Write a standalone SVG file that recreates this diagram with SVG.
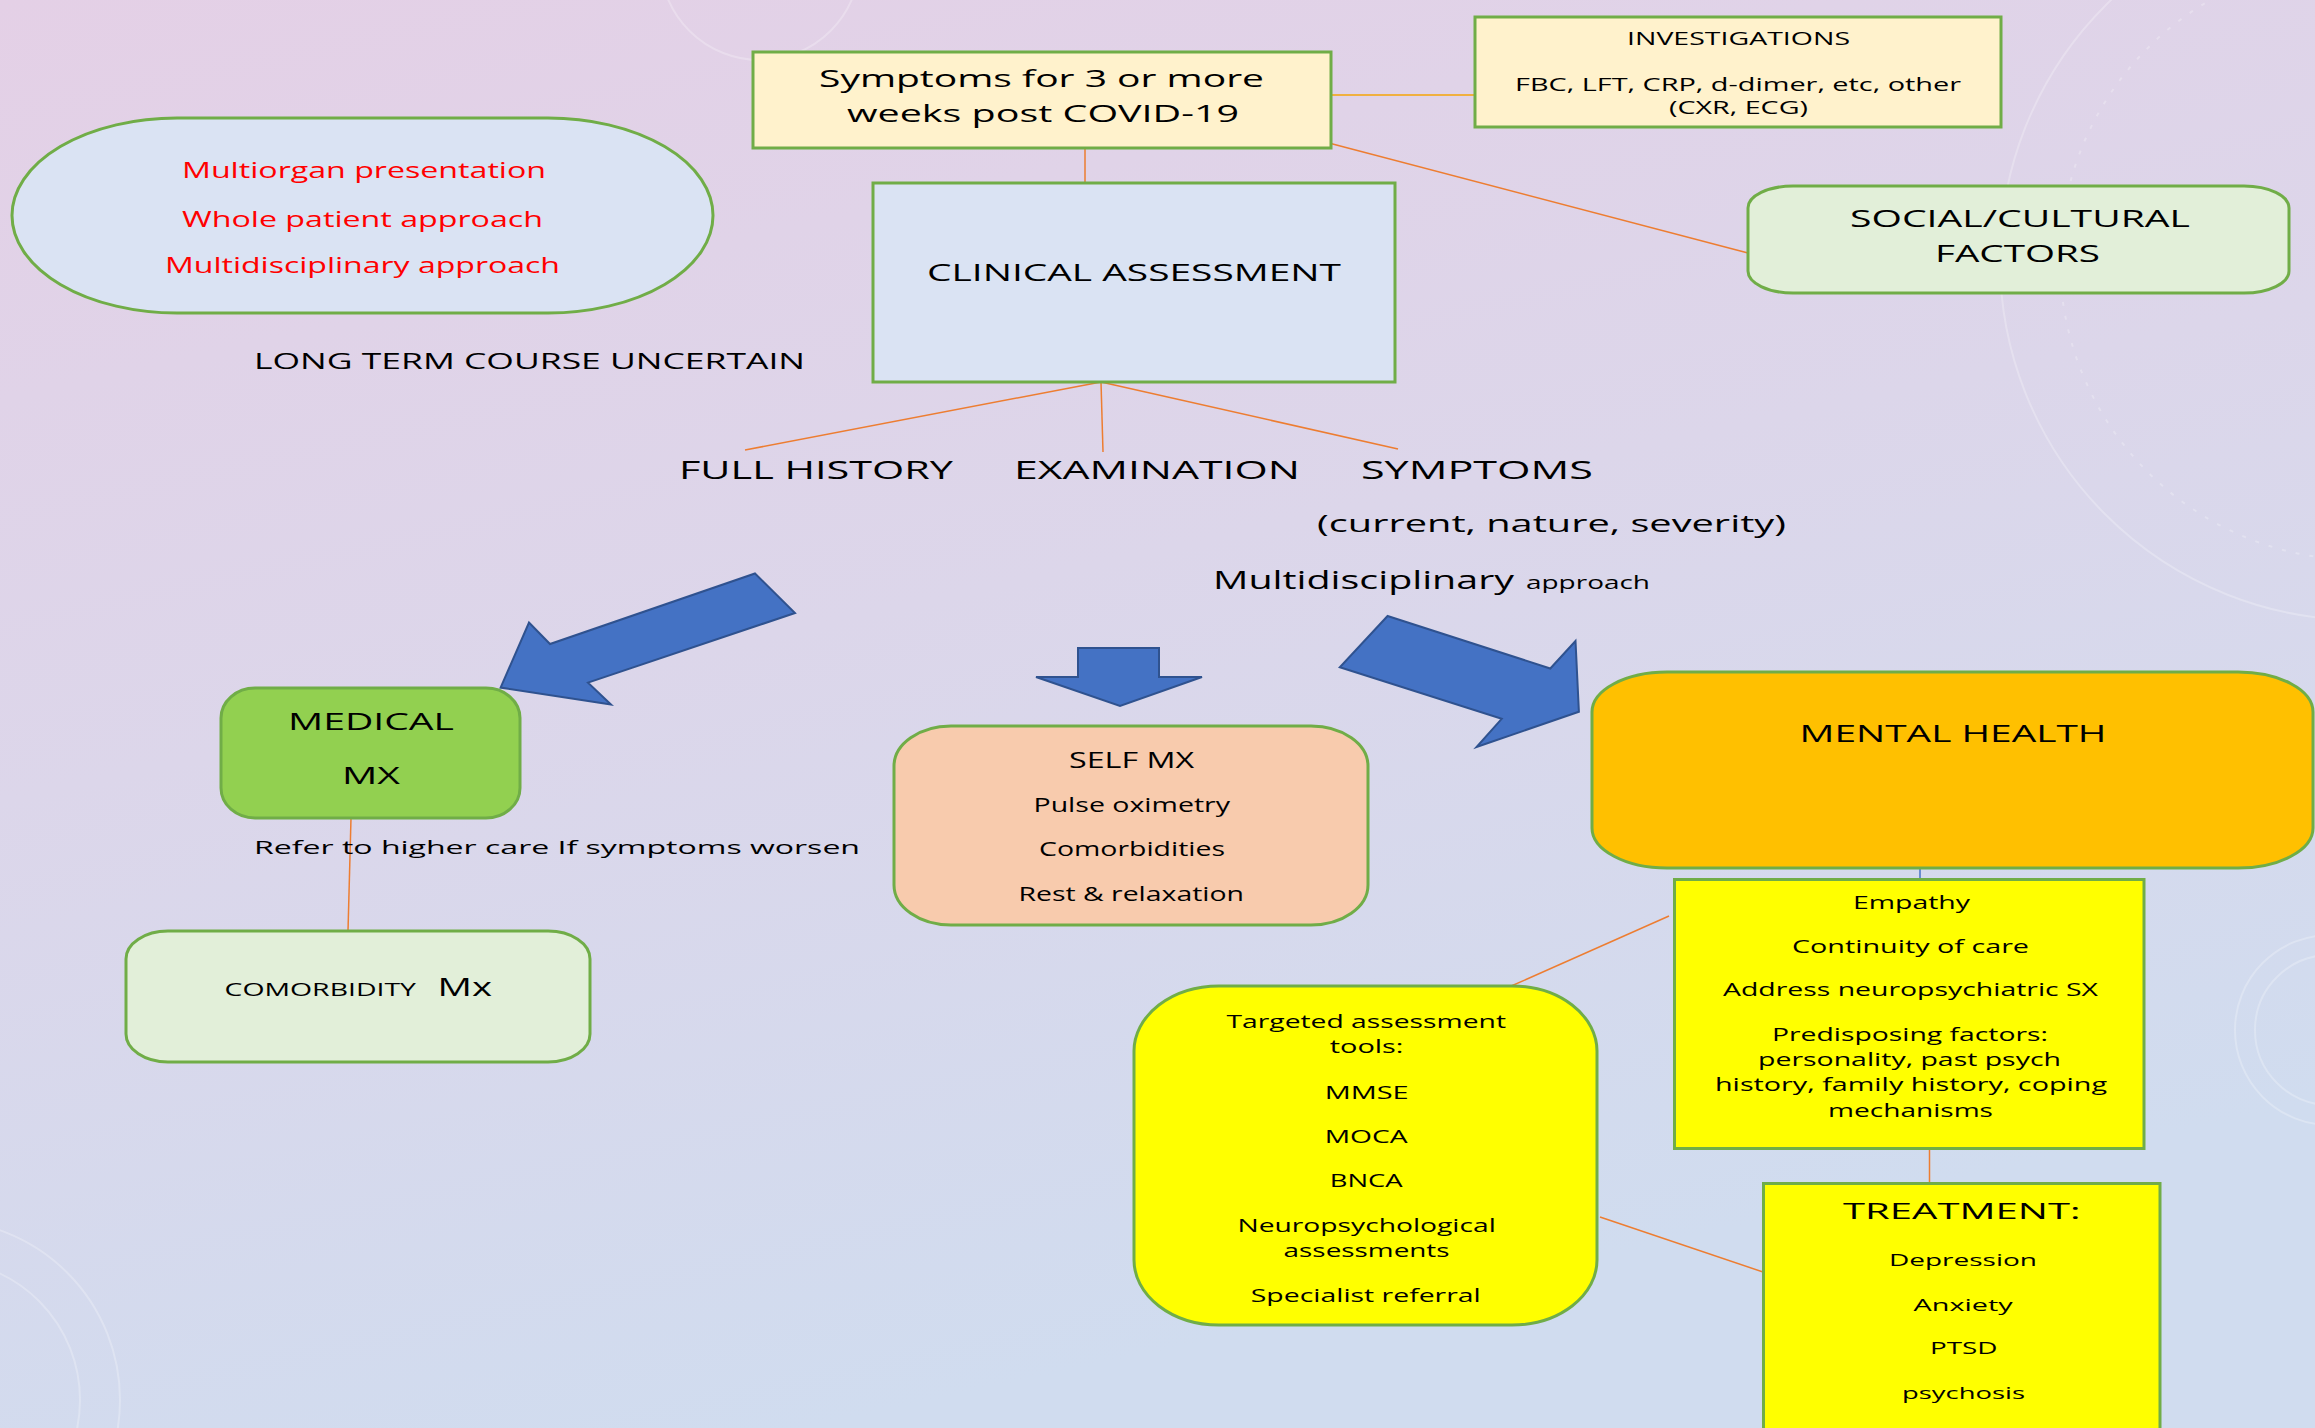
<svg xmlns="http://www.w3.org/2000/svg" width="2315" height="1428" viewBox="0 0 2315 1428">
<defs>
<linearGradient id="bg" x1="0" y1="0" x2="0.35" y2="1">
<stop offset="0" stop-color="#e4d0e6"/>
<stop offset="0.5" stop-color="#dcd6ea"/>
<stop offset="1" stop-color="#d0dcef"/>
</linearGradient>
<style>
.t{font-family:"Open Sans","Liberation Sans",Arial,sans-serif;fill:#000;}
.r{fill:#ff0000;}
.box{stroke:#70ad47;stroke-width:3;}
.con{stroke:#ed7d31;stroke-width:1.5;fill:none;}
.arr{fill:#4472c4;stroke:#2f528f;stroke-width:2;stroke-linejoin:miter;}
.deco{fill:none;stroke:#ffffff;stroke-opacity:0.25;stroke-width:2;}
</style>
</defs>
<rect x="0" y="0" width="2315" height="1428" fill="url(#bg)"/>
<g id="decor">
<circle class="deco" cx="2360" cy="260" r="360"/>
<circle class="deco" cx="2360" cy="260" r="300" stroke-dasharray="4 10"/>
<circle class="deco" cx="2330" cy="1030" r="95"/>
<circle class="deco" cx="2330" cy="1030" r="75"/>
<circle class="deco" cx="-60" cy="1400" r="180"/>
<circle class="deco" cx="-60" cy="1400" r="140"/>
<circle class="deco" cx="760" cy="-40" r="100"/>
</g>
<g id="connectors">
<line class="con" x1="1085" y1="148" x2="1085" y2="183"/>
<line x1="1331" y1="95" x2="1475" y2="95" stroke="#f0b040" stroke-width="2"/>
<line class="con" x1="1325" y1="142" x2="1748" y2="253"/>
<line class="con" x1="1101" y1="382" x2="745" y2="450"/>
<line class="con" x1="1101" y1="382" x2="1103" y2="452"/>
<line class="con" x1="1101" y1="382" x2="1398" y2="449"/>
<line class="con" x1="351" y1="818" x2="348" y2="931"/>
<line x1="1920" y1="868" x2="1920" y2="880" stroke="#4472c4" stroke-width="1.5"/>
<line class="con" x1="1669" y1="916" x2="1509" y2="987"/>
<line class="con" x1="1929.5" y1="1149" x2="1929.5" y2="1183"/>
<line class="con" x1="1600" y1="1217" x2="1766" y2="1273"/>
<polygon class="arr" points="755,573.5 795,613 588,682.6 611,704.6 500.6,687.6 529,622.5 550,644"/>
<polygon class="arr" points="1078,648 1159,648 1159,677 1202,677 1120,706 1036,677 1078,677"/>
<polygon class="arr" points="1387.6,616 1550.3,668.5 1575.5,641 1578.9,711.7 1476.5,747 1501.7,718.8 1339.8,667.3"/>
</g>
<g id="approach-ellipse">
<rect class="box" x="12" y="118" width="701" height="195" rx="165" ry="97.5" fill="#dae3f3"/>
<text class="t r" x="182" y="178" font-size="22" textLength="364" lengthAdjust="spacingAndGlyphs">Multiorgan presentation</text>
<text class="t r" x="182" y="227" font-size="22" textLength="361" lengthAdjust="spacingAndGlyphs">Whole patient approach</text>
<text class="t r" x="165" y="273" font-size="22" textLength="395" lengthAdjust="spacingAndGlyphs">Multidisciplinary approach</text>
</g>
<g id="long-term">
<text class="t" x="254" y="369" font-size="21" textLength="551" lengthAdjust="spacingAndGlyphs">LONG TERM COURSE UNCERTAIN</text>
</g>
<g id="symptoms">
<rect class="box" x="753" y="52" width="578" height="96" fill="#fff2cc"/>
<text class="t" x="819" y="87" font-size="24" textLength="445" lengthAdjust="spacingAndGlyphs">Symptoms for 3 or more</text>
<text class="t" x="847" y="122" font-size="24" textLength="392" lengthAdjust="spacingAndGlyphs">weeks post COVID-19</text>
</g>
<g id="investigations">
<rect class="box" x="1475" y="17" width="526" height="110" fill="#fff2cc"/>
<text class="t" x="1627" y="45" font-size="17.5" textLength="223" lengthAdjust="spacingAndGlyphs">INVESTIGATIONS</text>
<text class="t" x="1515" y="91" font-size="17.5" textLength="446" lengthAdjust="spacingAndGlyphs">FBC, LFT, CRP, d-dimer, etc, other</text>
<text class="t" x="1669" y="114" font-size="17.5" textLength="139" lengthAdjust="spacingAndGlyphs">(CXR, ECG)</text>
</g>
<g id="social">
<rect class="box" x="1748" y="186" width="541" height="107" rx="45" ry="22" fill="#e2efd9"/>
<text class="t" x="1850" y="227" font-size="23" textLength="340" lengthAdjust="spacingAndGlyphs">SOCIAL/CULTURAL</text>
<text class="t" x="1935" y="262" font-size="23" textLength="165" lengthAdjust="spacingAndGlyphs">FACTORS</text>
</g>
<g id="clinical">
<rect class="box" x="873" y="183" width="522" height="199" fill="#dae3f3"/>
<text class="t" x="927" y="281" font-size="24" textLength="414" lengthAdjust="spacingAndGlyphs">CLINICAL ASSESSMENT</text>
</g>
<g id="full-history">
<text class="t" x="679" y="479" font-size="26" textLength="274" lengthAdjust="spacingAndGlyphs">FULL HISTORY</text>
</g>
<g id="examination">
<text class="t" x="1014" y="479" font-size="26" textLength="286" lengthAdjust="spacingAndGlyphs">EXAMINATION</text>
</g>
<g id="symptoms-label">
<text class="t" x="1361" y="479" font-size="26" textLength="232" lengthAdjust="spacingAndGlyphs">SYMPTOMS</text>
<text class="t" x="1317" y="532" font-size="23" textLength="469" lengthAdjust="spacingAndGlyphs">(current, nature, severity)</text>
<text class="t" x="1213" y="589" font-size="25" textLength="301" lengthAdjust="spacingAndGlyphs">Multidisciplinary</text>
<text class="t" x="1526" y="589" font-size="18" textLength="124" lengthAdjust="spacingAndGlyphs">approach</text>
</g>
<g id="medical">
<rect class="box" x="221" y="688" width="299" height="130" rx="34" ry="30" fill="#92d050"/>
<text class="t" x="288" y="729.5" font-size="24" textLength="166" lengthAdjust="spacingAndGlyphs">MEDICAL</text>
<text class="t" x="342" y="784" font-size="24" textLength="58" lengthAdjust="spacingAndGlyphs">MX</text>
</g>
<g id="refer">
<text class="t" x="254" y="853.5" font-size="19" textLength="606" lengthAdjust="spacingAndGlyphs">Refer to higher care If symptoms worsen</text>
</g>
<g id="comorbidity">
<rect class="box" x="126" y="931" width="464" height="131" rx="42" ry="28" fill="#e2efd9"/>
<text class="t" x="224.5" y="996" font-size="17.5" textLength="191.5" lengthAdjust="spacingAndGlyphs">COMORBIDITY</text>
<text class="t" x="437.5" y="996" font-size="25" textLength="54.5" lengthAdjust="spacingAndGlyphs">Mx</text>
</g>
<g id="self-mx">
<rect class="box" x="894" y="726" width="474" height="199" rx="57" ry="40" fill="#f8cbad"/>
<text class="t" x="1069" y="767.7" font-size="22" textLength="125" lengthAdjust="spacingAndGlyphs">SELF MX</text>
<text class="t" x="1033.5" y="812" font-size="19.5" textLength="196.5" lengthAdjust="spacingAndGlyphs">Pulse oximetry</text>
<text class="t" x="1039" y="855.7" font-size="19.5" textLength="186" lengthAdjust="spacingAndGlyphs">Comorbidities</text>
<text class="t" x="1018.5" y="900.5" font-size="19.5" textLength="225.5" lengthAdjust="spacingAndGlyphs">Rest &amp; relaxation</text>
</g>
<g id="mental-health">
<rect class="box" x="1592" y="672" width="721" height="196" rx="75" ry="40" fill="#ffc000"/>
<text class="t" x="1799.5" y="741.6" font-size="23" textLength="307" lengthAdjust="spacingAndGlyphs">MENTAL HEALTH</text>
</g>
<g id="empathy">
<rect class="box" x="1674.5" y="879.5" width="469.5" height="269" fill="#ffff00"/>
<text class="t" x="1853" y="909" font-size="18" textLength="117" lengthAdjust="spacingAndGlyphs">Empathy</text>
<text class="t" x="1792" y="952.5" font-size="18" textLength="237" lengthAdjust="spacingAndGlyphs">Continuity of care</text>
<text class="t" x="1723" y="996" font-size="18" textLength="375" lengthAdjust="spacingAndGlyphs">Address neuropsychiatric SX</text>
<text class="t" x="1772" y="1041" font-size="18" textLength="276" lengthAdjust="spacingAndGlyphs">Predisposing factors:</text>
<text class="t" x="1758" y="1066.4" font-size="18" textLength="303" lengthAdjust="spacingAndGlyphs">personality, past psych</text>
<text class="t" x="1715" y="1091.4" font-size="18" textLength="392" lengthAdjust="spacingAndGlyphs">history, family history, coping</text>
<text class="t" x="1828" y="1117" font-size="18" textLength="165" lengthAdjust="spacingAndGlyphs">mechanisms</text>
</g>
<g id="targeted">
<rect class="box" x="1134" y="986" width="463" height="339" rx="85" ry="65" fill="#ffff00"/>
<text class="t" x="1226.5" y="1028.4" font-size="17.5" textLength="279.5" lengthAdjust="spacingAndGlyphs">Targeted assessment</text>
<text class="t" x="1329.7" y="1053" font-size="17.5" textLength="73.8" lengthAdjust="spacingAndGlyphs">tools:</text>
<text class="t" x="1324.7" y="1098.8" font-size="17.5" textLength="84" lengthAdjust="spacingAndGlyphs">MMSE</text>
<text class="t" x="1324.7" y="1142.7" font-size="17.5" textLength="83" lengthAdjust="spacingAndGlyphs">MOCA</text>
<text class="t" x="1329.7" y="1187.3" font-size="17.5" textLength="73" lengthAdjust="spacingAndGlyphs">BNCA</text>
<text class="t" x="1237.4" y="1231.5" font-size="17.5" textLength="258.4" lengthAdjust="spacingAndGlyphs">Neuropsychological</text>
<text class="t" x="1283.6" y="1257.3" font-size="17.5" textLength="166" lengthAdjust="spacingAndGlyphs">assessments</text>
<text class="t" x="1250.8" y="1301.5" font-size="17.5" textLength="230" lengthAdjust="spacingAndGlyphs">Specialist referral</text>
</g>
<g id="treatment">
<rect class="box" x="1763.5" y="1183.5" width="396.5" height="300" fill="#ffff00"/>
<text class="t" x="1843" y="1218.6" font-size="22.5" textLength="237.5" lengthAdjust="spacingAndGlyphs">TREATMENT:</text>
<text class="t" x="1889" y="1265.8" font-size="17" textLength="148" lengthAdjust="spacingAndGlyphs">Depression</text>
<text class="t" x="1913.6" y="1310.7" font-size="17" textLength="99" lengthAdjust="spacingAndGlyphs">Anxiety</text>
<text class="t" x="1930" y="1354" font-size="17" textLength="67.5" lengthAdjust="spacingAndGlyphs">PTSD</text>
<text class="t" x="1902" y="1398.5" font-size="17" textLength="123" lengthAdjust="spacingAndGlyphs">psychosis</text>
</g>
</svg>
